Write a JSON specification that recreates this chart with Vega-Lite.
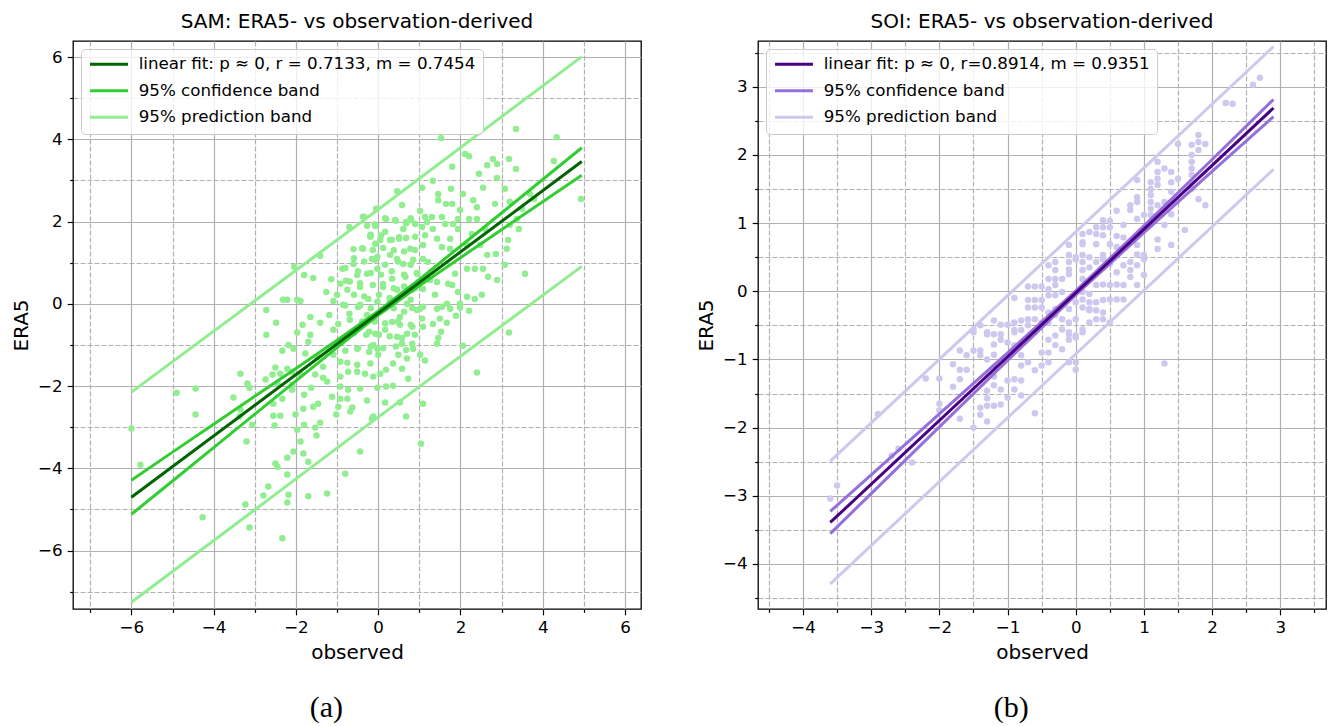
{
  "$schema": "https://vega.github.io/schema/vega-lite/v6.json",
  "padding": {"left": 10, "top": 11, "right": 0, "bottom": 0},
  "config": {
    "font": "DejaVu Sans",
    "view": {"stroke": "black", "strokeWidth": 1.3},
    "title": {"fontSize": 20, "fontWeight": "normal", "font": "DejaVu Sans", "color": "black", "offset": 9},
    "axis": {
      "domain": false, "labelFontSize": 16.7, "labelColor": "black", "labelFont": "DejaVu Sans",
      "titleFontSize": 20, "titleFontWeight": "normal", "titleColor": "black", "titleFont": "DejaVu Sans",
      "tickColor": "black", "tickWidth": 1.2, "labelPadding": 5, "titlePadding": 6,
      "gridColor": "#b0b0b0", "gridWidth": 1.2, "labelOverlap": false, "labelFlush": false, "labelBound": false
    },
    "legend": {
      "orient": "top-left", "offset": 8, "padding": 7, "title": null,
      "symbolType": "M-1,0H5", "symbolSize": 160, "symbolStrokeWidth": 3,
      "labelFontSize": 16.7, "labelColor": "black", "labelFont": "DejaVu Sans", "labelLimit": 700, "labelOffset": 34,
      "fillColor": "rgba(255,255,255,0.8)", "strokeColor": "#cccccc", "cornerRadius": 4, "rowPadding": 8.5
    }
  },
  "datasets": {
    "samPts": [
      {"x":-0.05,"y":2.31},{"x":-0.34,"y":2.11},{"x":-0.70,"y":1.87},{"x":-0.27,"y":1.90},{"x":-0.60,"y":1.33},{"x":-0.37,"y":1.34},{"x":-1.41,"y":1.17},{"x":-2.04,"y":0.90},{"x":-1.80,"y":0.70},{"x":-1.58,"y":0.63},{"x":-1.14,"y":0.60},{"x":-0.87,"y":0.85},{"x":-0.60,"y":0.97},{"x":-0.92,"y":0.49},{"x":-0.78,"y":0.56},{"x":-0.75,"y":0.34},{"x":-1.00,"y":0.22},{"x":-1.26,"y":0.29},{"x":-2.31,"y":0.10},{"x":-2.21,"y":0.10},{"x":-1.97,"y":0.10},{"x":-1.89,"y":0.07},{"x":-2.72,"y":-0.15},{"x":-1.09,"y":0.07},{"x":-0.85,"y":-0.02},{"x":-0.44,"y":-0.02},{"x":-0.51,"y":0.70},{"x":-0.27,"y":0.73},{"x":-0.15,"y":1.09},{"x":-0.19,"y":1.63},{"x":-0.07,"y":1.46},{"x":-0.44,"y":0.41},{"x":-0.24,"y":0.12},{"x":-0.02,"y":0.85},
      {"x":1.53,"y":4.03},{"x":3.35,"y":4.25},{"x":4.34,"y":4.05},{"x":4.27,"y":3.47},{"x":4.93,"y":2.55},{"x":2.11,"y":3.64},{"x":2.21,"y":3.59},{"x":1.80,"y":3.33},{"x":2.65,"y":3.37},{"x":2.79,"y":3.52},{"x":2.89,"y":3.40},{"x":3.18,"y":3.52},{"x":3.35,"y":3.28},{"x":2.45,"y":3.16},{"x":2.89,"y":3.06},{"x":2.55,"y":2.82},{"x":3.08,"y":2.80},{"x":1.33,"y":2.99},{"x":1.07,"y":2.82},{"x":0.46,"y":2.74},{"x":1.46,"y":2.67},{"x":1.77,"y":2.80},{"x":2.06,"y":2.67},{"x":1.80,"y":2.43},{"x":1.65,"y":2.43},{"x":1.46,"y":2.52},{"x":2.31,"y":2.52},{"x":2.40,"y":2.35},{"x":2.84,"y":2.43},{"x":3.20,"y":2.48},{"x":3.69,"y":2.67},{"x":3.79,"y":2.55},{"x":3.50,"y":2.31},{"x":0.58,"y":2.40},{"x":1.02,"y":2.26},{"x":1.14,"y":2.11},{"x":1.31,"y":2.11},{"x":1.55,"y":2.11},{"x":1.99,"y":2.28},{"x":1.94,"y":2.06},{"x":2.21,"y":2.06},{"x":2.40,"y":2.06},{"x":0.19,"y":2.06},{"x":0.41,"y":2.04},{"x":0.68,"y":1.99},{"x":0.80,"y":2.04},{"x":0.90,"y":1.94},{"x":1.19,"y":1.99},{"x":1.82,"y":1.94},{"x":-0.07,"y":1.89},{"x":0.17,"y":1.75},{"x":0.61,"y":1.82},{"x":1.07,"y":1.87},{"x":1.33,"y":1.82},{"x":1.63,"y":1.94},{"x":1.94,"y":1.82},{"x":2.28,"y":1.70},{"x":2.60,"y":1.82},{"x":3.20,"y":1.92},{"x":3.42,"y":1.82},{"x":3.37,"y":2.06},{"x":3.16,"y":1.55},{"x":3.13,"y":1.34},{"x":0.05,"y":1.55},{"x":0.29,"y":1.55},{"x":0.51,"y":1.58},{"x":0.90,"y":1.63},{"x":1.14,"y":1.67},{"x":1.43,"y":1.58},{"x":1.75,"y":1.58},{"x":0.78,"y":1.34},{"x":1.09,"y":1.43},{"x":1.55,"y":1.38},{"x":1.75,"y":1.34},{"x":2.16,"y":1.43},{"x":2.48,"y":1.43},{"x":2.65,"y":1.19},{"x":2.86,"y":1.21},{"x":3.08,"y":0.95},{"x":3.57,"y":0.73},{"x":2.89,"y":0.58},{"x":2.67,"y":0.66},{"x":2.55,"y":0.85},{"x":2.35,"y":0.85},{"x":2.16,"y":0.85},{"x":1.87,"y":0.73},{"x":1.70,"y":0.49},{"x":1.43,"y":0.53},{"x":1.26,"y":0.58},{"x":0.61,"y":0.97},{"x":0.46,"y":1.09},{"x":0.29,"y":1.19},{"x":-0.02,"y":1.14},{"x":-0.19,"y":1.67},{"x":0.85,"y":1.07},{"x":1.09,"y":1.09},{"x":1.21,"y":1.02},{"x":0.95,"y":0.73},{"x":0.66,"y":0.66},{"x":0.34,"y":0.61},{"x":0.12,"y":0.41},{"x":0.46,"y":0.34},{"x":0.83,"y":0.34},{"x":1.09,"y":0.36},{"x":1.38,"y":0.22},{"x":1.80,"y":0.46},{"x":1.94,"y":0.29},{"x":2.16,"y":0.17},{"x":1.99,"y":0.00},{"x":2.35,"y":0.12},{"x":2.52,"y":0.22},{"x":-0.02,"y":0.05},{"x":0.29,"y":0.05},{"x":0.70,"y":0.00},{"x":1.02,"y":-0.12},{"x":1.55,"y":-0.07},{"x":1.75,"y":-0.12},
      {"x":-2.48,"y":-0.46},{"x":-2.72,"y":-0.75},{"x":-3.35,"y":-1.70},{"x":-3.18,"y":-1.94},{"x":-3.13,"y":-2.04},{"x":-4.90,"y":-2.16},{"x":-4.44,"y":-2.06},{"x":-4.44,"y":-2.69},{"x":-3.52,"y":-2.28},{"x":-3.35,"y":-2.57},{"x":-3.37,"y":-2.74},{"x":-3.06,"y":-2.94},{"x":-3.20,"y":-3.35},{"x":-5.78,"y":-3.91},{"x":-6.00,"y":-3.03},{"x":-4.27,"y":-5.19},{"x":-3.23,"y":-4.88},{"x":-3.13,"y":-5.44},{"x":-2.33,"y":-5.70},{"x":-2.67,"y":-4.44},{"x":-2.79,"y":-4.66},{"x":-2.50,"y":-3.88},{"x":-2.45,"y":-3.96},{"x":-2.21,"y":-4.15},{"x":-2.18,"y":-4.64},{"x":-2.21,"y":-4.83},{"x":-1.70,"y":-4.68},{"x":-1.24,"y":-4.61},{"x":-0.80,"y":-4.13},{"x":-0.44,"y":-3.59},{"x":-1.70,"y":-3.84},{"x":-1.82,"y":-3.64},{"x":-2.06,"y":-3.59},{"x":-2.21,"y":-3.74},{"x":-1.89,"y":-3.35},{"x":-1.97,"y":-3.06},{"x":-1.80,"y":-2.94},{"x":-1.53,"y":-3.01},{"x":-1.50,"y":-3.20},{"x":-1.41,"y":-2.89},{"x":-2.52,"y":-2.96},{"x":-2.55,"y":-2.72},{"x":-2.38,"y":-2.72},{"x":-2.01,"y":-2.69},{"x":-1.82,"y":-2.55},{"x":-1.58,"y":-2.50},{"x":-1.46,"y":-2.43},{"x":-1.12,"y":-2.26},{"x":-0.92,"y":-2.31},{"x":-0.75,"y":-2.31},{"x":-0.97,"y":-2.50},{"x":-0.63,"y":-2.52},{"x":-0.68,"y":-2.62},{"x":-0.27,"y":-2.35},{"x":-0.12,"y":-2.74},{"x":-1.02,"y":-2.69},{"x":-1.80,"y":-2.21},{"x":-2.09,"y":-2.09},{"x":-2.33,"y":-2.31},{"x":-2.55,"y":-2.43},{"x":-1.63,"y":-2.04},{"x":-2.09,"y":-1.97},{"x":-2.45,"y":-1.94},{"x":-2.74,"y":-1.84},{"x":-2.57,"y":-1.72},{"x":-2.50,"y":-1.55},{"x":-2.21,"y":-1.58},{"x":-2.38,"y":-1.70},{"x":-2.09,"y":-1.65},{"x":-1.89,"y":-1.72},{"x":-1.53,"y":-1.72},{"x":-1.34,"y":-1.80},{"x":-1.24,"y":-1.89},{"x":-0.92,"y":-1.77},{"x":-0.73,"y":-1.65},{"x":-0.51,"y":-1.65},{"x":-0.32,"y":-1.70},{"x":-0.12,"y":-1.77},{"x":-0.92,"y":-2.01},{"x":-0.73,"y":-2.09},{"x":-0.44,"y":-2.06},{"x":-1.34,"y":-1.53},{"x":-0.92,"y":-1.41},{"x":-0.75,"y":-1.43},{"x":-0.51,"y":-1.48},{"x":-0.19,"y":-1.45},{"x":-0.22,"y":-1.17},{"x":-0.51,"y":-1.09},{"x":-0.80,"y":-1.14},{"x":-1.09,"y":-1.24},{"x":-1.48,"y":-1.29},{"x":-1.77,"y":-1.21},{"x":-2.06,"y":-1.09},{"x":-2.33,"y":-1.14},{"x":-2.18,"y":-1.00},{"x":-1.70,"y":-0.92},{"x":-1.97,"y":-0.70},{"x":-1.65,"y":-0.75},{"x":-1.84,"y":-0.51},{"x":-1.65,"y":-0.32},{"x":-1.41,"y":-0.46},{"x":-1.19,"y":-0.27},{"x":-1.09,"y":-0.63},{"x":-0.97,"y":-0.49},{"x":-0.70,"y":-0.24},{"x":-0.44,"y":-0.05},{"x":-0.22,"y":-0.68},{"x":-0.27,"y":-0.27},
      {"x":3.18,"y":-0.70},{"x":2.40,"y":-1.67},{"x":1.09,"y":-2.43},{"x":0.68,"y":-2.74},{"x":1.04,"y":-3.40},{"x":0.53,"y":-2.40},{"x":0.17,"y":-2.40},{"x":-0.15,"y":-2.79},{"x":0.73,"y":-1.82},{"x":0.36,"y":-1.99},{"x":0.19,"y":-2.01},{"x":-0.02,"y":-2.04},{"x":0.58,"y":-1.58},{"x":0.36,"y":-1.45},{"x":0.19,"y":-1.60},{"x":0.05,"y":-1.70},{"x":1.14,"y":-1.38},{"x":1.02,"y":-1.24},{"x":0.70,"y":-1.33},{"x":0.49,"y":-1.24},{"x":0.00,"y":-1.24},{"x":-0.02,"y":-1.09},{"x":0.85,"y":-1.09},{"x":0.83,"y":-0.97},{"x":0.58,"y":-0.97},{"x":0.46,"y":-0.80},{"x":0.70,"y":-0.73},{"x":1.43,"y":-0.97},{"x":1.46,"y":-0.83},{"x":1.53,"y":-0.68},{"x":1.33,"y":-0.49},{"x":1.09,"y":-0.56},{"x":0.83,"y":-0.56},{"x":0.53,"y":-0.51},{"x":0.34,"y":-0.44},{"x":0.17,"y":-0.63},{"x":-0.07,"y":-0.73},{"x":1.67,"y":-0.46},{"x":1.89,"y":-0.29},{"x":2.21,"y":-0.17},{"x":1.99,"y":-0.09},{"x":1.50,"y":-0.36},{"x":1.07,"y":-0.36},{"x":0.53,"y":-0.32},{"x":0.83,"y":-0.10},{"x":1.09,"y":-0.07},{"x":1.43,"y":-0.12},{"x":1.67,"y":0.00},{"x":2.06,"y":-1.02},{"x":-0.12,"y":-1.00},
      {"x":-0.37,"y":2.12},{"x":-0.08,"y":1.93},{"x":0.17,"y":2.08},{"x":0.43,"y":2.02},{"x":0.68,"y":1.96},{"x":0.79,"y":2.08},{"x":-0.18,"y":1.68},{"x":0.07,"y":1.66},{"x":0.33,"y":1.56},{"x":0.51,"y":1.62},{"x":0.68,"y":1.60},{"x":-0.39,"y":1.35},{"x":-0.13,"y":1.31},{"x":0.12,"y":1.36},{"x":0.38,"y":1.30},{"x":0.63,"y":1.27},{"x":0.89,"y":1.31},{"x":-0.59,"y":1.11},{"x":-0.34,"y":1.03},{"x":-0.08,"y":1.07},{"x":0.17,"y":0.95},{"x":0.48,"y":1.03},{"x":0.79,"y":0.95},{"x":-0.80,"y":0.87},{"x":-0.49,"y":0.79},{"x":-0.18,"y":0.75},{"x":0.07,"y":0.71},{"x":0.33,"y":0.79},{"x":0.63,"y":0.71},{"x":0.94,"y":0.75},{"x":-0.69,"y":0.54},{"x":-0.44,"y":0.50},{"x":-0.13,"y":0.46},{"x":0.12,"y":0.48},{"x":0.38,"y":0.38},{"x":0.63,"y":0.42},{"x":0.89,"y":0.38},{"x":-0.59,"y":0.22},{"x":-0.34,"y":0.18},{"x":0.02,"y":0.22},{"x":0.28,"y":0.14},{"x":0.53,"y":0.18},{"x":0.79,"y":0.10},{"x":-0.80,"y":-0.04},{"x":-0.49,"y":-0.08},{"x":-0.18,"y":-0.11},{"x":0.07,"y":-0.15},{"x":0.38,"y":-0.11},{"x":0.63,"y":-0.19},{"x":0.94,"y":-0.15},{"x":-0.69,"y":-0.39},{"x":-0.39,"y":-0.43},{"x":-0.08,"y":-0.43},{"x":0.17,"y":-0.47},{"x":0.48,"y":-0.43},{"x":0.79,"y":-0.51},{"x":-0.59,"y":-0.71},{"x":-0.29,"y":-0.75},{"x":0.02,"y":-0.75},{"x":0.28,"y":-0.79},{"x":0.58,"y":-0.83},{"x":0.89,"y":-0.75},{"x":-0.49,"y":-1.08},{"x":-0.18,"y":-1.04},{"x":0.12,"y":-1.08},{"x":0.43,"y":-1.04},{"x":0.68,"y":-1.12}
    ],
    "samLines": [
      {"p":"pu","x":-6,"y":-2.147},{"p":"pu","x":0,"y":2.295},{"p":"pu","x":4.95,"y":6.01},
      {"p":"pl","x":-6,"y":-7.257},{"p":"pl","x":0,"y":-2.755},{"p":"pl","x":4.95,"y":0.91},
      {"p":"cu","x":-6,"y":-4.287},{"p":"cu","x":-5,"y":-3.606},{"p":"cu","x":-4,"y":-2.929},{"p":"cu","x":-3,"y":-2.249},{"p":"cu","x":-2,"y":-1.570},{"p":"cu","x":-1,"y":-0.885},{"p":"cu","x":0,"y":-0.180},{"p":"cu","x":1,"y":0.594},{"p":"cu","x":2,"y":1.400},{"p":"cu","x":3,"y":2.209},{"p":"cu","x":4,"y":3.022},{"p":"cu","x":4.95,"y":3.794},
      {"p":"cl","x":-6,"y":-5.117},{"p":"cl","x":-5,"y":-4.308},{"p":"cl","x":-4,"y":-3.495},{"p":"cl","x":-3,"y":-2.683},{"p":"cl","x":-2,"y":-1.872},{"p":"cl","x":-1,"y":-1.065},{"p":"cl","x":0,"y":-0.280},{"p":"cl","x":1,"y":0.436},{"p":"cl","x":2,"y":1.122},{"p":"cl","x":3,"y":1.803},{"p":"cl","x":4,"y":2.482},{"p":"cl","x":4.95,"y":3.126},
      {"p":"fit","x":-6,"y":-4.702},{"p":"fit","x":0,"y":-0.23},{"p":"fit","x":4.95,"y":3.460}
    ],
    "soiPts": [
      {"x":2.7,"y":3.13},{"x":2.6,"y":3.03},{"x":2.2,"y":2.76},{"x":2.3,"y":2.75},{"x":1.8,"y":2.29},{"x":1.8,"y":2.19},{"x":1.7,"y":2.15},{"x":1.9,"y":2.16},{"x":1.5,"y":2.16},{"x":1.8,"y":2.07},{"x":1.7,"y":2.0},{"x":1.7,"y":1.9},{"x":1.7,"y":1.8},{"x":1.7,"y":1.71},{"x":1.7,"y":1.6},{"x":1.7,"y":1.5},{"x":1.8,"y":1.35},{"x":1.9,"y":1.26},{"x":1.5,"y":1.65},{"x":1.4,"y":1.75},{"x":1.4,"y":1.6},{"x":1.3,"y":1.8},{"x":1.2,"y":1.9},{"x":1.2,"y":1.75},{"x":1.2,"y":1.65},{"x":1.2,"y":1.56},{"x":1.1,"y":1.6},{"x":1.1,"y":1.5},{"x":1.1,"y":1.41},{"x":1.1,"y":1.31},{"x":1.1,"y":1.21},{"x":1.1,"y":1.12},{"x":1.2,"y":1.26},{"x":1.3,"y":1.31},{"x":1.4,"y":1.46},{"x":1.4,"y":1.13},{"x":1.3,"y":0.97},{"x":1.6,"y":0.9},{"x":1.4,"y":0.68},{"x":1.2,"y":0.76},{"x":1.2,"y":0.62},{"x":0.9,"y":1.63},{"x":0.9,"y":1.38},{"x":0.9,"y":1.31},{"x":0.8,"y":1.26},{"x":0.8,"y":1.19},{"x":0.6,"y":1.18},{"x":0.9,"y":1.06},{"x":1.0,"y":1.12},{"x":0.7,"y":0.97},{"x":0.5,"y":1.03},{"x":0.5,"y":0.94},{"x":0.4,"y":1.04},{"x":0.4,"y":0.94},{"x":0.3,"y":0.94},{"x":0.3,"y":0.84},{"x":0.2,"y":0.87},{"x":0.1,"y":0.84},{"x":0.1,"y":0.72},{"x":-0.1,"y":0.68},{"x":0.4,"y":0.82},{"x":0.6,"y":0.81},{"x":0.7,"y":0.79},{"x":0.3,"y":0.69},{"x":0.5,"y":0.69},{"x":0.6,"y":0.65},{"x":0.9,"y":0.68},{"x":0.9,"y":0.54},{"x":1.0,"y":0.53},{"x":0.1,"y":0.53},{"x":0.0,"y":0.5},{"x":0.4,"y":0.53},
      {"x":-0.9,"y":-0.1},{"x":-0.7,"y":0.07},{"x":-0.6,"y":0.07},{"x":-0.5,"y":0.07},{"x":-0.4,"y":0.18},{"x":-0.3,"y":0.18},{"x":-0.2,"y":0.18},{"x":-0.4,"y":0.38},{"x":-0.3,"y":0.43},{"x":-0.1,"y":0.53},{"x":-0.1,"y":0.43},{"x":-0.1,"y":0.32},{"x":0.0,"y":0.47},{"x":0.1,"y":0.69},{"x":-0.7,"y":-0.13},{"x":-0.6,"y":-0.13},{"x":-0.7,"y":-0.24},{"x":-0.6,"y":-0.24},{"x":-0.5,"y":-0.13},{"x":-0.5,"y":-0.24},{"x":-0.4,"y":-0.06},{"x":-0.3,"y":-0.06},{"x":-0.2,"y":-0.01},{"x":-0.4,"y":0.03},{"x":-0.4,"y":-0.31},{"x":-0.3,"y":-0.26},{"x":-0.2,"y":-0.21},{"x":-0.1,"y":-0.26},{"x":0.0,"y":-0.16},{"x":0.1,"y":-0.01},{"x":0.2,"y":-0.16},{"x":0.2,"y":-0.26},{"x":-0.3,"y":-0.35},{"x":-0.2,"y":-0.41},{"x":-0.1,"y":-0.46},{"x":0.0,"y":-0.41},{"x":0.1,"y":-0.56},{"x":-0.2,"y":-0.56},{"x":-0.1,"y":-0.63},{"x":0.0,"y":-0.68},{"x":-0.4,"y":-0.46},{"x":-0.5,"y":-0.46},{"x":-0.6,"y":-0.41},{"x":-0.7,"y":-0.41},{"x":-0.8,"y":-0.43},{"x":-0.9,"y":-0.46},{"x":-1.0,"y":-0.49},{"x":-1.1,"y":-0.49},{"x":-1.2,"y":-0.43},{"x":-1.3,"y":-0.6},{"x":-1.2,"y":-0.63},{"x":-1.1,"y":-0.63},{"x":-0.9,"y":-0.57},{"x":-0.8,"y":-0.57},{"x":-1.5,"y":-0.57},{"x":-1.4,"y":-0.5},
      {"x":-2.2,"y":-1.28},{"x":-2.0,"y":-1.28},{"x":-2.9,"y":-1.8},{"x":-3.5,"y":-2.85},{"x":-3.6,"y":-3.04},{"x":-2.6,"y":-2.31},{"x":-2.7,"y":-2.41},{"x":-2.4,"y":-2.51},{"x":-1.8,"y":-1.07},{"x":-1.7,"y":-1.15},{"x":-1.6,"y":-1.15},{"x":-1.7,"y":-1.29},{"x":-1.8,"y":-1.4},{"x":-2.0,"y":-1.65},{"x":-2.0,"y":-1.75},{"x":-1.7,"y":-1.87},{"x":-1.5,"y":-2.0},{"x":-1.3,"y":-1.91},{"x":-1.4,"y":-1.81},{"x":-1.4,"y":-1.71},{"x":-1.3,"y":-1.68},{"x":-1.2,"y":-1.68},{"x":-1.3,"y":-1.57},{"x":-1.3,"y":-1.46},{"x":-1.2,"y":-1.38},{"x":-1.2,"y":-1.25},{"x":-1.2,"y":-1.12},{"x":-1.3,"y":-1.0},{"x":-1.4,"y":-0.94},{"x":-1.4,"y":-0.87},{"x":-1.5,"y":-0.87},{"x":-1.6,"y":-0.94},{"x":-1.7,"y":-0.87},{"x":-1.2,"y":-0.78},{"x":-1.2,"y":-0.93},{"x":-1.3,"y":-0.63},{"x":-1.5,"y":-0.6},
      {"x":1.3,"y":-1.06},{"x":-0.6,"y":-1.79},{"x":-0.3,"y":0.09},{"x":-0.3,"y":0.31},{"x":-0.1,"y":0.25},{"x":0.1,"y":0.43},{"x":0.1,"y":0.31},{"x":0.1,"y":0.18},{"x":0.2,"y":0.5},{"x":0.2,"y":0.35},{"x":0.3,"y":0.43},{"x":0.4,"y":0.35},{"x":0.4,"y":0.47},{"x":0.5,"y":0.4},{"x":0.6,"y":0.28},{"x":0.7,"y":0.38},{"x":0.8,"y":0.43},{"x":0.8,"y":0.31},{"x":0.8,"y":0.21},{"x":0.9,"y":0.38},{"x":1.0,"y":0.47},{"x":1.0,"y":0.24},{"x":0.9,"y":0.09},{"x":0.7,"y":0.09},{"x":0.6,"y":0.1},{"x":0.5,"y":0.09},{"x":0.4,"y":0.1},{"x":0.3,"y":0.09},{"x":0.2,"y":-0.04},{"x":0.1,"y":-0.12},{"x":0.3,"y":-0.16},{"x":0.4,"y":-0.13},{"x":0.5,"y":-0.12},{"x":0.6,"y":-0.12},{"x":0.7,"y":-0.12},{"x":0.1,"y":-0.24},{"x":0.2,"y":-0.28},{"x":0.3,"y":-0.28},{"x":0.4,"y":-0.31},{"x":0.3,"y":-0.41},{"x":0.4,"y":-0.41},{"x":0.5,"y":-0.46},{"x":0.2,"y":-0.46},{"x":0.1,"y":-0.6},{"x":0.0,"y":-0.65},{"x":-0.1,"y":-0.6},{"x":-0.1,"y":-0.71},{"x":-0.3,"y":-0.65},{"x":-0.4,"y":-0.71},{"x":-0.3,"y":-0.79},{"x":-0.2,"y":-0.85},{"x":-0.4,"y":-0.9},{"x":-0.5,"y":-0.9},{"x":0.0,"y":-1.04},{"x":0.0,"y":-1.15},{"x":-0.1,"y":-1.04},{"x":-0.4,"y":-1.04},{"x":-0.5,"y":-1.09},{"x":-0.6,"y":-1.16},{"x":-0.7,"y":-1.04},{"x":-0.8,"y":-1.09},{"x":-0.9,"y":-1.29},{"x":-1.0,"y":-1.31},{"x":-0.8,"y":-1.31},{"x":-0.9,"y":-1.44},{"x":-0.8,"y":-1.53},{"x":-1.1,"y":-1.44},{"x":-1.0,"y":-1.56},{"x":-1.1,"y":-1.66},{"x":-0.8,"y":-0.94},{"x":-0.9,"y":-0.79},{"x":-1.0,"y":-0.75},{"x":-1.1,"y":-0.71},{"x":-0.9,"y":-0.6},{"x":-0.7,"y":-0.5},{"x":-0.6,"y":-0.6},{"x":-0.5,"y":-0.5}
    ],
    "soiLines": [
      {"p":"pu","x":-3.6,"y":-2.491},{"p":"pu","x":0,"y":0.87},{"p":"pu","x":2.9,"y":3.587},
      {"p":"pl","x":-3.6,"y":-4.291},{"p":"pl","x":0,"y":-0.92},{"p":"pl","x":2.9,"y":1.787},
      {"p":"cu","x":-3.6,"y":-3.228},{"p":"cu","x":-3,"y":-2.693},{"p":"cu","x":-2,"y":-1.800},{"p":"cu","x":-1,"y":-0.904},{"p":"cu","x":0,"y":0.005},{"p":"cu","x":1,"y":0.959},{"p":"cu","x":2,"y":1.932},{"p":"cu","x":2.9,"y":2.812},
      {"p":"cl","x":-3.6,"y":-3.554},{"p":"cl","x":-3,"y":-2.967},{"p":"cl","x":-2,"y":-1.990},{"p":"cl","x":-1,"y":-1.016},{"p":"cl","x":0,"y":-0.055},{"p":"cl","x":1,"y":0.861},{"p":"cl","x":2,"y":1.758},{"p":"cl","x":2.9,"y":2.562},
      {"p":"fit","x":-3.6,"y":-3.391},{"p":"fit","x":0,"y":-0.025},{"p":"fit","x":2.9,"y":2.687}
    ]
  },
  "resolve": {"scale": {"x": "independent", "y": "independent", "color": "independent"}, "legend": {"color": "independent"}, "axis": {"x": "independent", "y": "independent"}},
  "spacing": 53,
  "hconcat": [
    {
      "title": {"text": "(a)", "orient": "bottom", "font": "Liberation Serif", "fontSize": 30, "fontWeight": "normal", "offset": 30, "frame": "bounds", "anchor": "middle"},
      "vconcat": [
        {
          "title": "SAM: ERA5- vs observation-derived",
          "width": 568, "height": 568,
          "encoding": {
            "x": {"field": "x", "type": "quantitative", "scale": {"domain": [-7.42, 6.39], "nice": false, "zero": false},
              "axis": {"title": "observed", "values": [-7,-6,-5,-4,-3,-2,-1,0,1,2,3,4,5,6],
                "labelExpr": "datum.value % 2 === 0 ? format(datum.value, 'd') : ''",
                "tickSize": {"condition": {"test": "datum.value % 2 !== 0", "value": 3.3}, "value": 5.8},
                "gridDash": {"condition": {"test": "datum.value % 2 !== 0", "value": [5, 2]}, "value": []}}},
            "y": {"field": "y", "type": "quantitative", "scale": {"domain": [-7.42, 6.39], "nice": false, "zero": false},
              "axis": {"title": "ERA5", "values": [-7,-6,-5,-4,-3,-2,-1,0,1,2,3,4,5,6],
                "labelExpr": "datum.value % 2 === 0 ? format(datum.value, 'd') : ''",
                "tickSize": {"condition": {"test": "datum.value % 2 !== 0", "value": 3.3}, "value": 5.8},
                "gridDash": {"condition": {"test": "datum.value % 2 !== 0", "value": [5, 2]}, "value": []}}}
          },
          "layer": [
            {"data": {"name": "samPts"}, "mark": {"type": "circle", "size": 42, "opacity": 1, "color": "#90ee90"}},
            {"data": {"name": "samLines"}, "transform": [{"filter": "datum.p === 'pu' || datum.p === 'pl'"}],
              "mark": {"type": "line", "strokeWidth": 3},
              "encoding": {"color": {"datum": "95% prediction band", "type": "nominal",
                  "scale": {"domain": ["linear fit: p ≈ 0, r = 0.7133, m = 0.7454", "95% confidence band", "95% prediction band"], "range": ["#006400", "#32cd32", "#90ee90"]}},
                "detail": {"field": "p"}}},
            {"data": {"name": "samLines"}, "transform": [{"filter": "datum.p === 'cu' || datum.p === 'cl'"}],
              "mark": {"type": "line", "strokeWidth": 3},
              "encoding": {"color": {"datum": "95% confidence band", "type": "nominal"}, "detail": {"field": "p"}}},
            {"data": {"name": "samLines"}, "transform": [{"filter": "datum.p === 'fit'"}],
              "mark": {"type": "line", "strokeWidth": 3},
              "encoding": {"color": {"datum": "linear fit: p ≈ 0, r = 0.7133, m = 0.7454", "type": "nominal"}}}
          ]
        }
      ]
    },
    {
      "title": {"text": "(b)", "orient": "bottom", "font": "Liberation Serif", "fontSize": 30, "fontWeight": "normal", "offset": 30, "frame": "bounds", "anchor": "middle"},
      "vconcat": [
        {
          "title": "SOI: ERA5- vs observation-derived",
          "width": 568, "height": 568,
          "encoding": {
            "x": {"field": "x", "type": "quantitative", "scale": {"domain": [-4.66, 3.67], "nice": false, "zero": false},
              "axis": {"title": "observed", "values": [-4.5,-4,-3.5,-3,-2.5,-2,-1.5,-1,-0.5,0,0.5,1,1.5,2,2.5,3,3.5],
                "labelExpr": "datum.value % 1 === 0 ? format(datum.value, 'd') : ''",
                "tickSize": {"condition": {"test": "datum.value % 1 !== 0", "value": 3.3}, "value": 5.8},
                "gridDash": {"condition": {"test": "datum.value % 1 !== 0", "value": [5, 2]}, "value": []}}},
            "y": {"field": "y", "type": "quantitative", "scale": {"domain": [-4.66, 3.67], "nice": false, "zero": false},
              "axis": {"title": "ERA5", "values": [-4.5,-4,-3.5,-3,-2.5,-2,-1.5,-1,-0.5,0,0.5,1,1.5,2,2.5,3,3.5],
                "labelExpr": "datum.value % 1 === 0 ? format(datum.value, 'd') : ''",
                "tickSize": {"condition": {"test": "datum.value % 1 !== 0", "value": 3.3}, "value": 5.8},
                "gridDash": {"condition": {"test": "datum.value % 1 !== 0", "value": [5, 2]}, "value": []}}}
          },
          "layer": [
            {"data": {"name": "soiPts"}, "mark": {"type": "circle", "size": 42, "opacity": 1, "color": "#cfc8ee"}},
            {"data": {"name": "soiLines"}, "transform": [{"filter": "datum.p === 'pu' || datum.p === 'pl'"}],
              "mark": {"type": "line", "strokeWidth": 3},
              "encoding": {"color": {"datum": "95% prediction band", "type": "nominal",
                  "scale": {"domain": ["linear fit: p ≈ 0, r=0.8914, m = 0.9351", "95% confidence band", "95% prediction band"], "range": ["#4b0082", "#9370db", "#cfc8ee"]}},
                "detail": {"field": "p"}}},
            {"data": {"name": "soiLines"}, "transform": [{"filter": "datum.p === 'cu' || datum.p === 'cl'"}],
              "mark": {"type": "line", "strokeWidth": 3},
              "encoding": {"color": {"datum": "95% confidence band", "type": "nominal"}, "detail": {"field": "p"}}},
            {"data": {"name": "soiLines"}, "transform": [{"filter": "datum.p === 'fit'"}],
              "mark": {"type": "line", "strokeWidth": 3},
              "encoding": {"color": {"datum": "linear fit: p ≈ 0, r=0.8914, m = 0.9351", "type": "nominal"}}}
          ]
        }
      ]
    }
  ]
}
